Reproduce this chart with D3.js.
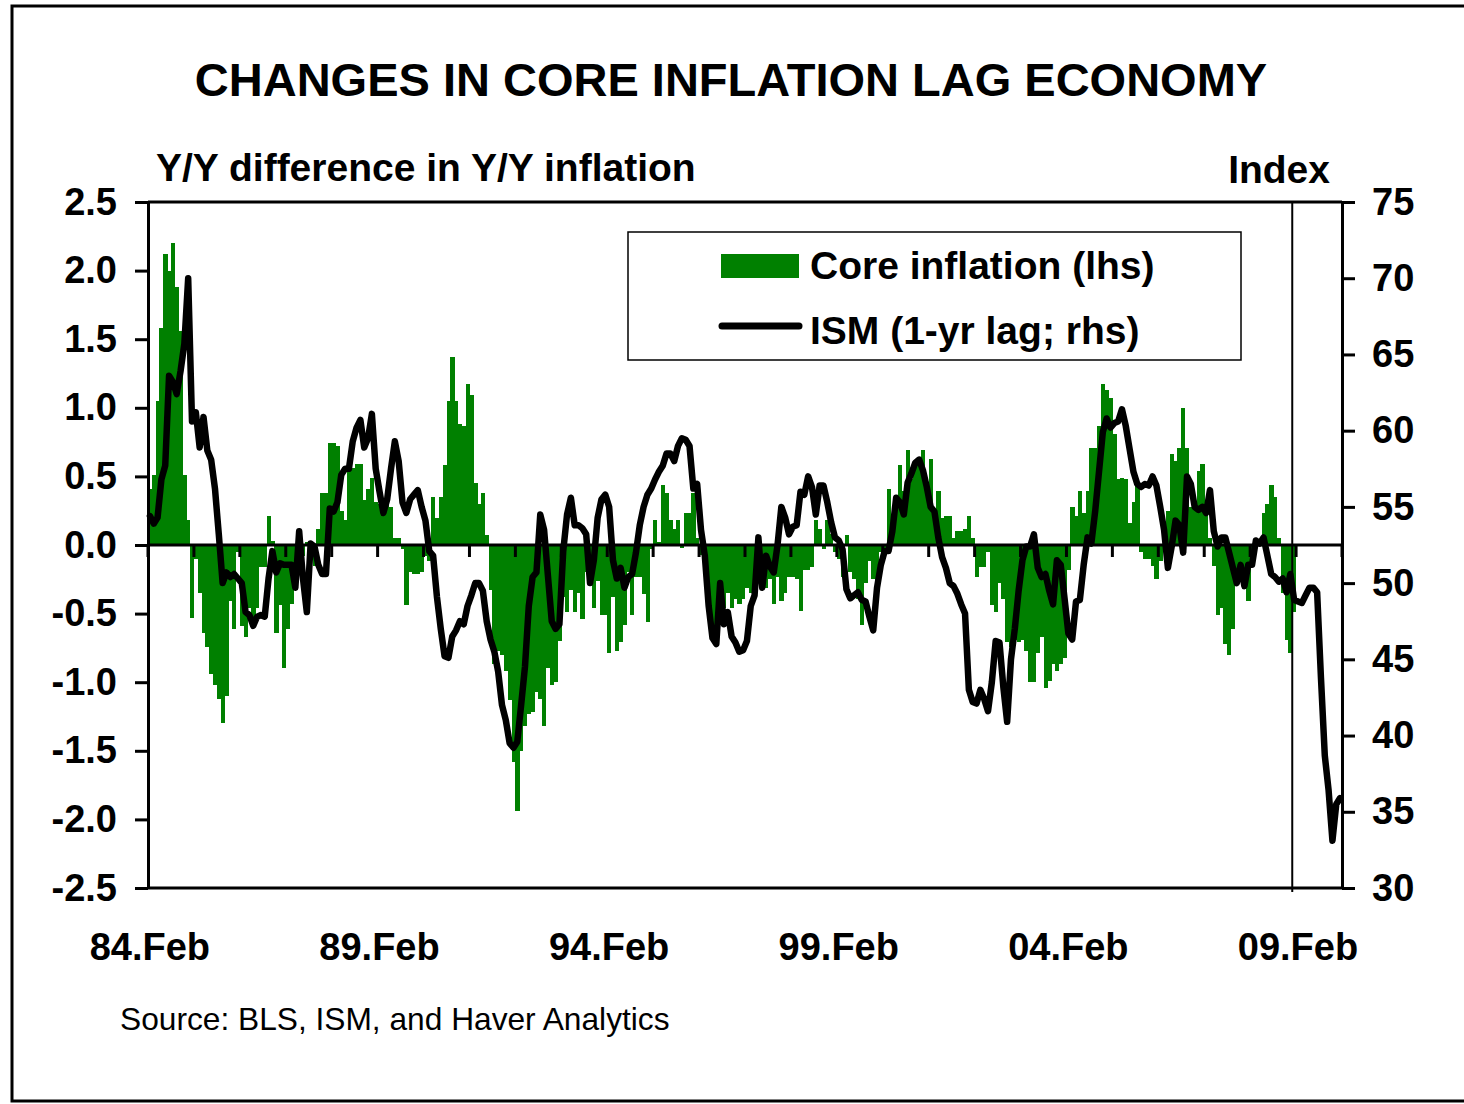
<!DOCTYPE html>
<html>
<head>
<meta charset="utf-8">
<script src="https://cdn.jsdelivr.net/npm/d3@7"></script>
<style>
  body { margin: 0; background: #fff; }
  svg { display: block; }
  text { font-family: "Liberation Sans", Arial, sans-serif; fill: #000; }
</style>
</head>
<body>
<div id="chart"></div>
<script>
// monthly series, first month = Feb 1984
var startMonth = new Date(1984, 1, 1);

// Y/Y difference in Y/Y core inflation (lhs), Feb 84 .. Jan 09
var coreInflation = [
  0.41, 0.51, 1.05, 1.58, 2.12, 2.0, 2.2, 1.88, 1.56, 0.51, 0.18, -0.53,
  -0.1, -0.35, -0.64, -0.74, -0.94, -1.02, -1.12, -1.30, -1.10, -0.41, -0.61, -0.05,
  -0.59, -0.67, -0.46, -0.58, -0.46, -0.16, -0.16, 0.21, 0.03, -0.64, -0.44, -0.9,
  -0.61, -0.43, -0.25, -0.15, -0.08, 0.02, -0.05, -0.15, 0.12, 0.38, 0.38, 0.74,
  0.74, 0.72, 0.25, 0.18, 0.54, 0.56, 0.59, 0.59, 0.33, 0.41, 0.49, 0.31,
  0.3, 0.28, 0.31, 0.28, 0.05, 0.05, -0.03, -0.44, -0.2, -0.21, -0.21, -0.2,
  -0.08, -0.12, 0.35, 0.2, 0.35, 0.58, 1.05, 1.37, 1.05, 0.88, 0.87, 1.17,
  1.09, 0.45, 0.3, 0.38, 0.07, -0.33, -0.87, -0.77, -0.8, -0.92, -1.13, -1.58,
  -1.94, -1.50, -1.32, -1.23, -1.22, -1.07, -1.12, -1.32, -0.9, -1.02, -1.0, -0.7,
  -0.38, -0.49, -0.33, -0.49, -0.35, -0.54, -0.2, -0.28, -0.46, -0.26, -0.51, -0.51,
  -0.79, -0.38, -0.77, -0.71, -0.58, -0.2, -0.51, -0.23, -0.23, -0.36, -0.56, -0.03,
  0.18, 0.02, 0.44, 0.38, 0.18, 0.12, 0.18, -0.02, 0.23, 0.23, 0.38, 0.05,
  -0.07, -0.15, -0.53, -0.64, -0.54, -0.51, -0.46, -0.35, -0.46, -0.39, -0.43, -0.39,
  -0.31, -0.35, -0.31, -0.21, -0.28, -0.31, -0.25, -0.43, -0.23, -0.41, -0.35, -0.23,
  -0.23, -0.25, -0.48, -0.18, -0.18, -0.16, 0.18, 0.12, -0.03, 0.18, 0.08, -0.05,
  -0.1, -0.23, 0.07, -0.2, -0.25, -0.39, -0.58, -0.28, -0.12, -0.25, -0.3, -0.05,
  -0.02, 0.41, 0.08, 0.25, 0.58, 0.39, 0.69, 0.48, 0.58, 0.58, 0.69, 0.44,
  0.63, 0.18, 0.39, 0.2, 0.21, 0.21, 0.05, 0.1, 0.1, 0.12, 0.21, 0.05,
  -0.23, -0.16, -0.16, -0.05, -0.44, -0.49, -0.28, -0.39, -0.71, -0.74, -0.69, -0.71,
  -0.69, -0.77, -1.0, -1.0, -0.79, -0.67, -1.04, -0.99, -0.87, -0.92, -0.87, -0.82,
  -0.18, 0.28, 0.21, 0.39, 0.23, 0.39, 0.71, 0.71, 0.87, 1.17, 1.13, 1.07,
  0.81, 0.48, 0.49, 0.48, 0.16, 0.31, 0.43, -0.05, -0.1, -0.1, -0.15, -0.25,
  -0.12, -0.05, 0.25, 0.66, 0.61, 0.71, 1.0, 0.71, 0.28, 0.31, 0.54, 0.59,
  0.28, 0.05, -0.15, -0.51, -0.46, -0.72, -0.8, -0.61, -0.28, -0.18, -0.31, -0.41,
  -0.05, -0.02, 0.02, 0.23, 0.3, 0.44, 0.35, 0.05, -0.35, -0.69, -0.79, -0.49
];

// ISM index shifted forward one year (rhs), Feb 84 .. Jan 10
var ismLagged = [
  54.4, 53.9, 54.3, 56.8, 57.7, 63.6, 63.2, 62.4, 63.9, 65.7, 70.0, 60.6,
  61.2, 58.9, 60.9, 58.7, 58.1, 56.2, 53.2, 50.0, 50.7, 50.4, 50.6, 50.3,
  50.0, 48.1, 47.9, 47.2, 47.8, 47.9, 47.8, 50.3, 52.1, 50.7, 51.3, 51.2,
  51.2, 51.2, 49.7, 53.4, 50.3, 48.1, 52.6, 52.4, 51.2, 50.6, 50.6, 54.9,
  54.7, 55.3, 57.1, 57.5, 57.5, 59.3, 60.2, 60.7, 58.9, 59.5, 61.1, 57.5,
  56.0, 54.6, 55.5, 57.5, 59.3, 58.0, 55.3, 54.6, 55.5, 55.8, 56.1, 55.0,
  54.1, 52.1, 51.8, 49.1, 47.0, 45.2, 45.1, 46.5, 46.9, 47.5, 47.3, 48.5,
  49.2, 50.0, 50.0, 49.5, 47.5, 46.3, 45.5, 44.2, 42.0, 41.0, 39.5, 39.2,
  39.6, 42.0, 44.5, 48.5, 50.4, 50.7, 54.5, 53.5, 50.5, 47.5, 47.0, 47.3,
  52.1, 54.5, 55.6, 53.8, 53.8, 53.6, 53.2, 50.0, 51.5, 54.3, 55.5, 55.8,
  55.0, 51.5, 50.3, 51.0, 49.7, 50.4, 50.6, 52.0, 53.8, 55.0, 55.8, 56.2,
  56.8, 57.3, 57.7, 58.5, 58.5, 58.0, 59.0, 59.5, 59.4, 59.0, 56.2, 56.5,
  53.5, 51.8, 48.5, 46.4, 46.0, 50.0, 47.3, 48.1, 46.5, 46.1, 45.5, 45.6,
  46.2, 48.5, 49.2, 53.0, 49.7, 51.8, 51.1, 50.7, 52.5, 55.0, 54.3, 53.2,
  53.7, 53.8, 56.0, 55.8, 57.0, 56.3, 54.5, 56.4, 56.4, 55.3, 54.0, 53.0,
  52.8, 52.2, 49.6, 49.0, 49.2, 49.4, 48.9, 48.8, 47.8, 46.9, 49.7, 51.2,
  52.1, 52.1, 53.4, 55.6, 55.3, 54.5, 56.6, 57.2, 57.9, 58.1, 57.4, 56.3,
  55.0, 54.7, 53.0, 51.7, 51.0, 50.0, 49.8, 49.3, 48.6, 48.0, 43.0, 42.2,
  42.1, 43.0, 42.4, 41.6, 43.5, 46.2, 46.1, 43.2, 40.9, 45.0, 47.0, 49.5,
  51.5, 52.4, 52.4, 53.2, 51.0, 50.4, 50.6, 49.5, 48.6, 51.5, 51.2, 49.0,
  46.7, 46.3, 48.8, 48.9, 51.2, 53.0, 52.6, 54.7, 57.3, 59.9, 60.8, 60.2,
  60.5, 60.6, 61.4, 60.3, 58.8, 57.3, 56.5, 56.3, 56.5, 56.4, 57.0, 56.4,
  55.0, 53.5, 51.0, 52.4, 54.1, 53.8, 52.0, 57.0, 56.5, 55.0, 54.8, 55.0,
  54.6, 56.1, 53.4, 52.4, 53.0, 53.0, 52.0, 51.0, 50.0, 51.2, 49.8, 51.2,
  51.2, 52.8, 52.6, 53.0, 51.8, 50.6, 50.4, 50.1, 50.3, 49.4, 50.6, 48.9,
  48.8, 48.7, 49.2, 49.7, 49.7, 49.4, 43.8, 38.7, 36.4, 33.1, 35.5, 35.9
];

var xTickLabels = ["84.Feb", "89.Feb", "94.Feb", "99.Feb", "04.Feb", "09.Feb"];
var leftTicks = [2.5, 2.0, 1.5, 1.0, 0.5, 0.0, -0.5, -1.0, -1.5, -2.0, -2.5];
var rightTicks = [75, 70, 65, 60, 55, 50, 45, 40, 35, 30];
var markerMonth = 299;   // vertical marker line at start of this month

var months = d3.timeMonth.range(startMonth, d3.timeMonth.offset(startMonth, ismLagged.length));

var W = 1464, H = 1104;
var plot = {left: 148, right: 1342, top: 202, bottom: 888};

var svg = d3.select("#chart").append("svg")
    .attr("width", W)
    .attr("height", H);

// outer frame (right edge runs off the picture)
svg.append("rect")
    .attr("x", 12).attr("y", 6)
    .attr("width", 1480).attr("height", 1095)
    .attr("fill", "none")
    .attr("stroke", "#000")
    .attr("stroke-width", 3);

// scales
var x = d3.scaleBand()
    .domain(d3.range(months.length))
    .range([plot.left, plot.right])
    .paddingInner(0).paddingOuter(0);

var yL = d3.scaleLinear().domain([-2.5, 2.5]).range([plot.bottom, plot.top]);
var yR = d3.scaleLinear().domain([30, 75]).range([plot.bottom, plot.top]);

// title and axis captions
svg.append("text")
    .attr("x", 731).attr("y", 96)
    .attr("text-anchor", "middle")
    .style("font-size", "47px").style("font-weight", "bold")
    .text("CHANGES IN CORE INFLATION LAG ECONOMY");

svg.append("text")
    .attr("x", 156).attr("y", 181)
    .style("font-size", "39px").style("font-weight", "bold")
    .text("Y/Y difference in Y/Y inflation");

svg.append("text")
    .attr("x", 1330).attr("y", 183)
    .attr("text-anchor", "end")
    .style("font-size", "39px").style("font-weight", "bold")
    .text("Index");

// bars
svg.append("g")
  .selectAll("rect")
  .data(coreInflation)
  .enter().append("rect")
    .attr("x", function(d, i) { return x(i); })
    .attr("width", x.bandwidth() + 0.4)
    .attr("y", function(d) { return yL(Math.max(0, d)); })
    .attr("height", function(d) { return Math.abs(yL(d) - yL(0)); })
    .attr("fill", "#008000")
    .attr("shape-rendering", "crispEdges");

// plot border top / bottom
svg.append("line")
    .attr("x1", plot.left).attr("x2", plot.right)
    .attr("y1", plot.top).attr("y2", plot.top)
    .attr("stroke", "#000").attr("stroke-width", 3);
svg.append("line")
    .attr("x1", plot.left).attr("x2", plot.right)
    .attr("y1", plot.bottom).attr("y2", plot.bottom)
    .attr("stroke", "#000").attr("stroke-width", 3);

// category axis at zero, with yearly ticks
var zeroY = yL(0);
svg.append("line")
    .attr("x1", plot.left).attr("x2", plot.right)
    .attr("y1", zeroY).attr("y2", zeroY)
    .attr("stroke", "#000").attr("stroke-width", 3);

var yearTicks = d3.range(0, months.length + 1, 12);
svg.append("g")
  .selectAll("line")
  .data(yearTicks)
  .enter().append("line")
    .attr("x1", function(d) { return d < months.length ? x(d) : plot.right; })
    .attr("x2", function(d) { return d < months.length ? x(d) : plot.right; })
    .attr("y1", zeroY).attr("y2", zeroY + 12)
    .attr("stroke", "#000").attr("stroke-width", 3);

// x labels below the plot
svg.append("g")
  .selectAll("text")
  .data(xTickLabels)
  .enter().append("text")
    .attr("x", function(d, i) { return x(i * 60) + x.bandwidth() / 2; })
    .attr("y", 960)
    .attr("text-anchor", "middle")
    .style("font-size", "38px").style("font-weight", "bold")
    .text(function(d) { return d; });

// vertical marker
svg.append("line")
    .attr("x1", x(markerMonth)).attr("x2", x(markerMonth))
    .attr("y1", plot.top).attr("y2", plot.bottom + 4)
    .attr("stroke", "#000").attr("stroke-width", 2);

// left axis
var gL = svg.append("g")
    .attr("transform", "translate(" + plot.left + ",0)")
    .call(d3.axisLeft(yL).tickValues(leftTicks).tickSize(13).tickSizeOuter(0).tickPadding(18)
      .tickFormat(function(d) { return d.toFixed(1); }));

// right axis
var gR = svg.append("g")
    .attr("transform", "translate(" + plot.right + ",0)")
    .call(d3.axisRight(yR).tickValues(rightTicks).tickSize(13).tickSizeOuter(0).tickPadding(17)
      .tickFormat(d3.format("d")));

[gL, gR].forEach(function(g) {
  g.select(".domain").attr("stroke-width", 3);
  g.selectAll(".tick line").attr("stroke-width", 3);
  g.selectAll(".tick text")
      .style("font-family", "'Liberation Sans', Arial, sans-serif")
      .style("font-size", "38px").style("font-weight", "bold")
      .attr("fill", "#000");
});

// ISM line
var valueline = d3.line()
    .x(function(d, i) { return x(i) + x.bandwidth() / 2; })
    .y(function(d) { return yR(d); });

svg.append("path")
    .attr("d", valueline(ismLagged))
    .attr("fill", "none")
    .attr("stroke", "#000")
    .attr("stroke-width", 6.5)
    .attr("stroke-linejoin", "round")
    .attr("stroke-linecap", "round");

// legend
var legend = svg.append("g");
legend.append("rect")
    .attr("x", 628).attr("y", 232)
    .attr("width", 613).attr("height", 128)
    .attr("fill", "#fff")
    .attr("stroke", "#000").attr("stroke-width", 1.5);
legend.append("rect")
    .attr("x", 721).attr("y", 254)
    .attr("width", 78).attr("height", 24)
    .attr("fill", "#008000");
legend.append("line")
    .attr("x1", 722).attr("x2", 799)
    .attr("y1", 326).attr("y2", 326)
    .attr("stroke", "#000").attr("stroke-width", 7)
    .attr("stroke-linecap", "round");
legend.append("text")
    .attr("x", 810).attr("y", 279)
    .style("font-size", "39px").style("font-weight", "bold")
    .text("Core inflation (lhs)");
legend.append("text")
    .attr("x", 810).attr("y", 344)
    .style("font-size", "39px").style("font-weight", "bold")
    .text("ISM (1-yr lag; rhs)");

// source note
svg.append("text")
    .attr("x", 120).attr("y", 1030)
    .style("font-size", "31.7px")
    .text("Source: BLS, ISM, and Haver Analytics");
</script>
</body>
</html>
